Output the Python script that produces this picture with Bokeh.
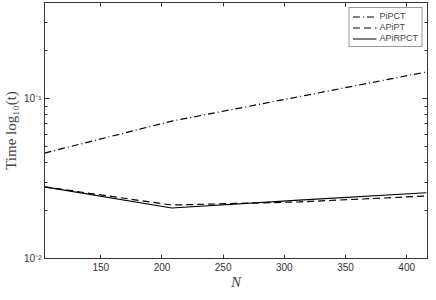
from bokeh.plotting import figure
from bokeh.models import LinearAxis, LogAxis, FixedTicker, Range1d, Legend, LegendItem, CustomJSTickFormatter
from bokeh.embed import file_html
from bokeh.resources import INLINE

N = [104, 208, 312, 416]
pipct = [0.0457, 0.0724, 0.103, 0.147]
apipt = [0.0281, 0.0216, 0.0226, 0.0246]
apirpct = [0.0281, 0.0207, 0.0232, 0.0258]
series_names = ["PiPCT", "APiPT", "APiRPCT"]
x_ticks = [150, 200, 250, 300, 350, 400]
y_major = [0.01, 0.1]
y_minor = [0.02, 0.03, 0.04, 0.05, 0.06, 0.07, 0.08, 0.09, 0.2, 0.3, 0.4]
y_labels = {0.01: "10\u207b\u00b2", 0.1: "10\u207b\u00b9"}

p = figure(width=428, height=292, output_backend="svg", toolbar_location=None,
           y_axis_type="log", x_range=Range1d(104, 417), y_range=Range1d(0.01, 0.4),
           min_border_left=38, min_border_right=1, min_border_top=2, min_border_bottom=28)
p.grid.visible = False
p.outline_line_color = "#333333"
p.background_fill_color = "white"

r1 = p.line(N, pipct, line_color="black", line_width=1.2, line_dash="7 3 1 3")
r2 = p.line(N, apipt, line_color="black", line_width=1.2, line_dash="7 4")
r3 = p.line(N, apirpct, line_color="black", line_width=1.2)

tick_font = "Liberation Sans"
ax = p.xaxis[0]
ax.ticker = FixedTicker(ticks=x_ticks)
ax.major_tick_in = 4
ax.major_tick_out = 0
ax.minor_tick_in = 0
ax.minor_tick_out = 0
ax.major_label_text_font = tick_font
ax.major_label_text_font_size = "10px"
ax.major_label_text_color = "#333333"
ax.major_label_standoff = 4
ax.axis_line_color = "#333333"
ax.major_tick_line_color = "#333333"
ax.axis_label = "N"
ax.axis_label_text_font = "Liberation Serif"
ax.axis_label_text_font_style = "italic"
ax.axis_label_text_font_size = "15px"
ax.axis_label_standoff = 0

ay = p.yaxis[0]
ay.ticker = FixedTicker(ticks=y_major, minor_ticks=y_minor)
ay.major_label_overrides = y_labels
ay.major_tick_in = 5
ay.major_tick_out = 0
ay.minor_tick_in = 3
ay.minor_tick_out = 0
ay.major_label_text_font = tick_font
ay.major_label_text_font_size = "10px"
ay.major_label_text_color = "#333333"
ay.major_label_standoff = 3
ay.axis_line_color = "#333333"
ay.major_tick_line_color = "#333333"
ay.minor_tick_line_color = "#333333"
ay.axis_label = "Time log\u2081\u2080(t)"
ay.axis_label_text_font = "Liberation Serif"
ay.axis_label_text_font_style = "normal"
ay.axis_label_text_font_size = "15px"
ay.axis_label_standoff = 2

blank = CustomJSTickFormatter(code="return '';")
top = LinearAxis(ticker=FixedTicker(ticks=x_ticks), formatter=blank, major_tick_in=4, major_tick_out=0,
                 minor_tick_in=0, minor_tick_out=0, major_label_standoff=0,
                 axis_line_color="#333333", major_tick_line_color="#333333")
p.add_layout(top, "above")
right = LogAxis(ticker=FixedTicker(ticks=y_major, minor_ticks=y_minor), formatter=blank,
                major_tick_in=5, major_tick_out=0, minor_tick_in=3, minor_tick_out=0,
                major_label_standoff=0, axis_line_color="#333333", major_tick_line_color="#333333",
                minor_tick_line_color="#333333")
p.add_layout(right, "right")

legend = Legend(items=[LegendItem(label=series_names[0], renderers=[r1]),
                       LegendItem(label=series_names[1], renderers=[r2]),
                       LegendItem(label=series_names[2], renderers=[r3])],
                location="top_right", label_text_font=tick_font, label_text_font_size="9px",
                label_height=9, glyph_height=9, glyph_width=24, spacing=1, padding=3,
                margin=5, label_standoff=3, border_line_color="#333333",
                background_fill_alpha=1)
p.add_layout(legend, "center")

open("out.html", "w").write(file_html(p, INLINE))
